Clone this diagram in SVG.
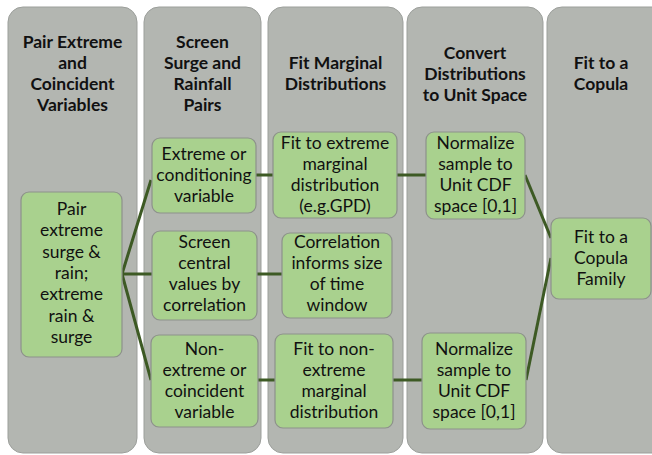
<svg xmlns="http://www.w3.org/2000/svg" width="652" height="455" viewBox="0 0 652 455">
<style>
.col{fill:#b3b6b1;stroke:#9c9f9b;stroke-width:1}
.box{fill:#a9d18e;stroke:#8d918b;stroke-width:1.2}
.h{font-family:Lato,"Liberation Sans",sans-serif;font-weight:bold;font-size:17.5px;fill:#111;text-anchor:middle}
.t{font-family:Lato,"Liberation Sans",sans-serif;font-size:17.5px;fill:#111;text-anchor:middle}
.c{stroke:#3d5a24;stroke-width:3;fill:none}
</style>
<rect width="652" height="455" fill="#ffffff"/>
<g id="columns">
<g id="col1"><rect class="col" x="8" y="7" width="129" height="446" rx="15"/>
<text class="h" x="72.5" y="48">Pair Extreme</text><text class="h" x="72.5" y="69">and</text><text class="h" x="72.5" y="90">Coincident</text><text class="h" x="72.5" y="111">Variables</text></g>
<g id="col2"><rect class="col" x="144" y="7" width="117" height="446" rx="15"/>
<text class="h" x="202.5" y="48">Screen</text><text class="h" x="202.5" y="69">Surge and</text><text class="h" x="202.5" y="90">Rainfall</text><text class="h" x="202.5" y="111">Pairs</text></g>
<g id="col3"><rect class="col" x="268" y="7" width="135" height="446" rx="15"/>
<text class="h" x="335.5" y="69">Fit Marginal</text><text class="h" x="335.5" y="90">Distributions</text></g>
<g id="col4"><rect class="col" x="407" y="7" width="136" height="446" rx="15"/>
<text class="h" x="475" y="59">Convert</text><text class="h" x="475" y="80">Distributions</text><text class="h" x="475" y="101">to Unit Space</text></g>
<g id="col5"><rect class="col" x="547" y="7" width="120" height="446" rx="15"/>
<text class="h" x="601" y="69">Fit to a</text><text class="h" x="601" y="90">Copula</text></g>
</g>
<g id="connectors">
<path class="c" d="M122,274 L151,180 M122,274 L152,274 M122,274 L151,380"/>
<path class="c" d="M256,175 L273,175"/>
<path class="c" d="M257,274 L282,274"/>
<path class="c" d="M258,380 L275,380"/>
<path class="c" d="M397,175 L426,175"/>
<path class="c" d="M393,380 L422,380"/>
<path class="c" d="M525,175 L551,238"/>
<path class="c" d="M526,380 L551,258"/>
</g>
<g id="nodeA"><rect class="box" x="21" y="192" width="101" height="165" rx="8"/>
<text class="t" x="71.5" y="215">Pair</text><text class="t" x="71.5" y="236">extreme</text><text class="t" x="71.5" y="258">surge &amp;</text><text class="t" x="71.5" y="279">rain;</text><text class="t" x="71.5" y="300">extreme</text><text class="t" x="71.5" y="322">rain &amp;</text><text class="t" x="71.5" y="343">surge</text></g>
<g id="nodeB1"><rect class="box" x="152" y="138" width="104" height="75" rx="8"/>
<text class="t" x="204" y="160">Extreme or</text><text class="t" x="204" y="181">conditioning</text><text class="t" x="204" y="202">variable</text></g>
<g id="nodeB2"><rect class="box" x="152" y="231" width="105" height="89" rx="8"/>
<text class="t" x="204.5" y="248">Screen</text><text class="t" x="204.5" y="269">central</text><text class="t" x="204.5" y="290">values by</text><text class="t" x="204.5" y="311">correlation</text></g>
<g id="nodeB3"><rect class="box" x="151" y="335" width="107" height="92" rx="8"/>
<text class="t" x="204.5" y="355">Non-</text><text class="t" x="204.5" y="376">extreme or</text><text class="t" x="204.5" y="397">coincident</text><text class="t" x="204.5" y="418">variable</text></g>
<g id="nodeC1"><rect class="box" x="273" y="132" width="124" height="86" rx="8"/>
<text class="t" x="335" y="149">Fit to extreme</text><text class="t" x="335" y="170">marginal</text><text class="t" x="335" y="191">distribution</text><text class="t" x="335" y="212">(e.g.GPD)</text></g>
<g id="nodeC2"><rect class="box" x="282" y="233" width="110" height="85" rx="8"/>
<text class="t" x="337" y="248">Correlation</text><text class="t" x="337" y="269">informs size</text><text class="t" x="337" y="290">of time</text><text class="t" x="337" y="311">window</text></g>
<g id="nodeC3"><rect class="box" x="275" y="334" width="118" height="94" rx="8"/>
<text class="t" x="334" y="355">Fit to non-</text><text class="t" x="334" y="376">extreme</text><text class="t" x="334" y="397">marginal</text><text class="t" x="334" y="418">distribution</text></g>
<g id="nodeD1"><rect class="box" x="426" y="132" width="99" height="87" rx="8"/>
<text class="t" x="475.5" y="149">Normalize</text><text class="t" x="475.5" y="170">sample to</text><text class="t" x="475.5" y="191">Unit CDF</text><text class="t" x="475.5" y="212">space [0,1]</text></g>
<g id="nodeD2"><rect class="box" x="422" y="333" width="104" height="96" rx="8"/>
<text class="t" x="474" y="355">Normalize</text><text class="t" x="474" y="376">sample to</text><text class="t" x="474" y="397">Unit CDF</text><text class="t" x="474" y="418">space [0,1]</text></g>
<g id="nodeE"><rect class="box" x="551" y="218" width="100" height="81" rx="8"/>
<text class="t" x="601" y="243">Fit to a</text><text class="t" x="601" y="264">Copula</text><text class="t" x="601" y="285">Family</text></g>
</svg>
